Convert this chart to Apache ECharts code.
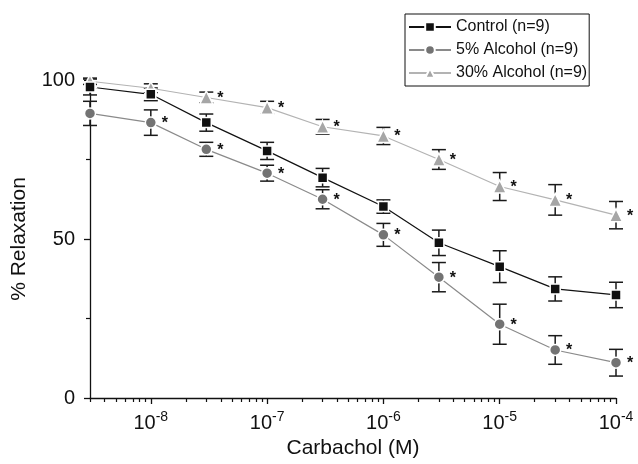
<!DOCTYPE html>
<html>
<head>
<meta charset="utf-8">
<script src="https://cdn.jsdelivr.net/npm/echarts@6/dist/echarts.min.js"></script>
<style>
html, body { margin: 0; padding: 0; background: #fff; }
#main { width: 638px; height: 464px; }
</style>
</head>
<body>
<div id="main"></div>
<script>
// carbachol concentrations (M)
var concentrations = [3e-9, 1e-8, 3e-8, 1e-7, 3e-7, 1e-6, 3e-6, 1e-5, 3e-5, 1e-4];

var control    = [97.8, 95.5, 86.6, 77.7, 69.3, 60.2, 48.8, 41.3, 34.3, 32.4];
var controlErr = [2.5, 2.0, 2.7, 2.7, 2.9, 2.1, 4.0, 5.0, 3.8, 4.0];
var alc5       = [89.5, 86.6, 78.2, 70.7, 62.5, 51.3, 38.0, 23.2, 15.1, 11.1];
var alc5Err    = [3.8, 4.0, 2.2, 2.5, 3.0, 3.6, 4.6, 6.3, 4.5, 4.2];
var alc30      = [99.6, 97.4, 94.5, 91.3, 85.3, 82.4, 75.0, 66.5, 62.3, 57.5];
var alc30Err   = [1.0, 1.4, 1.7, 2.0, 2.3, 2.7, 3.1, 4.4, 4.8, 4.3];

// significance flags (*)
var alc5Star  = [0, 1, 1, 1, 1, 1, 1, 1, 1, 1];
var alc30Star = [0, 0, 1, 1, 1, 1, 1, 1, 1, 1];

var majorExp = [-8, -7, -6, -5, -4];
var names = ['Control (n=9)', '5% Alcohol (n=9)', '30% Alcohol (n=9)'];

var xs = concentrations.map(function (c) { return Math.log10(c); });
var xMin = xs[0], xMax = -4;

var minorTicks = [];
for (var d = -9; d <= -5; d++) {
    for (var k = 2; k <= 9; k++) {
        var v = d + Math.log10(k);
        if (v >= xMin - 1e-6 && v <= xMax) minorTicks.push(v);
    }
}

var font = 'Liberation Sans, Arial, Helvetica, sans-serif';
var axisColor = '#111';

function pts(vals) {
    return xs.map(function (x, i) { return [x, vals[i]]; });
}

function lineSeries(name, vals, symbol, size, color, lineColor) {
    return {
        name: name,
        type: 'line',
        data: pts(vals),
        symbol: symbol,
        symbolSize: size,
        showAllSymbol: true,
        clip: false,
        z: 3,
        itemStyle: { color: color, borderColor: '#fff', borderWidth: 1.5 },
        lineStyle: { color: lineColor, width: 1.2 },
        emphasis: { disabled: true }
    };
}

function errorSeries(vals, errs) {
    return {
        type: 'custom',
        name: 'err',
        clip: false,
        z: 2,
        silent: true,
        data: xs.map(function (x, i) { return [x, vals[i] - errs[i], vals[i] + errs[i]]; }),
        encode: { x: 0, y: [1, 2] },
        renderItem: function (params, api) {
            var lo = api.coord([api.value(0), api.value(1)]);
            var hi = api.coord([api.value(0), api.value(2)]);
            var w = 7;
            var st = { stroke: '#1a1a1a', lineWidth: 1.5 };
            return {
                type: 'group',
                children: [
                    { type: 'line', shape: { x1: lo[0], y1: lo[1], x2: hi[0], y2: hi[1] }, style: st },
                    { type: 'line', shape: { x1: lo[0] - w, y1: lo[1], x2: lo[0] + w, y2: lo[1] }, style: st },
                    { type: 'line', shape: { x1: hi[0] - w, y1: hi[1], x2: hi[0] + w, y2: hi[1] }, style: st }
                ]
            };
        }
    };
}

function starSeries(vals, flags) {
    var data = [];
    xs.forEach(function (x, i) { if (flags[i]) data.push([x, vals[i]]); });
    return {
        type: 'custom',
        name: 'star',
        clip: false,
        z: 4,
        silent: true,
        data: data,
        renderItem: function (params, api) {
            var p = api.coord([api.value(0), api.value(1)]);
            return {
                type: 'text',
                x: p[0] + 14,
                y: p[1] + 1,
                style: {
                    text: '*',
                    fill: '#111',
                    font: 'bold 16px ' + font,
                    align: 'center',
                    verticalAlign: 'middle'
                }
            };
        }
    };
}

var myChart = echarts.init(document.getElementById('main'));

var option = {
    animation: false,
    backgroundColor: '#fff',
    textStyle: { fontFamily: font, color: '#111' },
    grid: { left: 90, right: 22, top: 80, bottom: 66 },
    legend: {
        data: names,
        orient: 'vertical',
        left: 405,
        top: 14,
        itemWidth: 42,
        itemHeight: 12,
        itemGap: 5,
        padding: [4, 2, 4, 3],
        borderColor: '#111',
        borderWidth: 1,
        textStyle: { fontSize: 16, color: '#111', fontFamily: font, lineHeight: 18 }
    },
    xAxis: [{
        type: 'value',
        min: xMin,
        max: xMax,
        name: 'Carbachol (M)',
        nameLocation: 'middle',
        nameGap: 39,
        nameTextStyle: { fontSize: 21, color: '#111' },
        axisLine: { lineStyle: { color: axisColor, width: 1.3 } },
        axisTick: { customValues: majorExp, length: 6, lineStyle: { color: axisColor, width: 1.3 } },
        axisLabel: {
            customValues: majorExp,
            margin: 12,
            formatter: function (v) { return '{b|10}{s|' + v + '}'; },
            rich: {
                b: { fontSize: 20, color: '#111', fontFamily: font },
                s: { fontSize: 14, color: '#111', fontFamily: font, padding: [0, 0, 12, 0] }
            }
        },
        splitLine: { show: false }
    }, {
        type: 'value',
        min: xMin,
        max: xMax,
        position: 'bottom',
        axisLine: { show: false },
        axisTick: { customValues: minorTicks, length: 4, lineStyle: { color: axisColor, width: 1.2 } },
        axisLabel: { show: false },
        splitLine: { show: false }
    }],
    yAxis: {
        type: 'value',
        min: 0,
        max: 100,
        interval: 50,
        name: '% Relaxation',
        nameLocation: 'middle',
        nameGap: 60,
        nameRotate: 90,
        nameTextStyle: { fontSize: 21, color: '#111' },
        axisLine: { show: true, lineStyle: { color: axisColor, width: 1.3 } },
        axisTick: { show: true, length: 6, lineStyle: { color: axisColor, width: 1.3 } },
        minorTick: { show: true, splitNumber: 2, length: 4, lineStyle: { color: axisColor, width: 1.2 } },
        axisLabel: { fontSize: 20, color: '#111', margin: 15 },
        splitLine: { show: false },
        minorSplitLine: { show: false }
    },
    series: [
        errorSeries(alc30, alc30Err),
        errorSeries(alc5, alc5Err),
        errorSeries(control, controlErr),
        lineSeries(names[2], alc30, 'triangle', 13, '#a6a6a6', '#b3b3b3'),
        lineSeries(names[1], alc5, 'circle', 11, '#737373', '#8a8a8a'),
        lineSeries(names[0], control, 'rect', 10, '#111', '#111'),
        starSeries(alc5, alc5Star),
        starSeries(alc30, alc30Star)
    ]
};

myChart.setOption(option);
</script>
</body>
</html>
